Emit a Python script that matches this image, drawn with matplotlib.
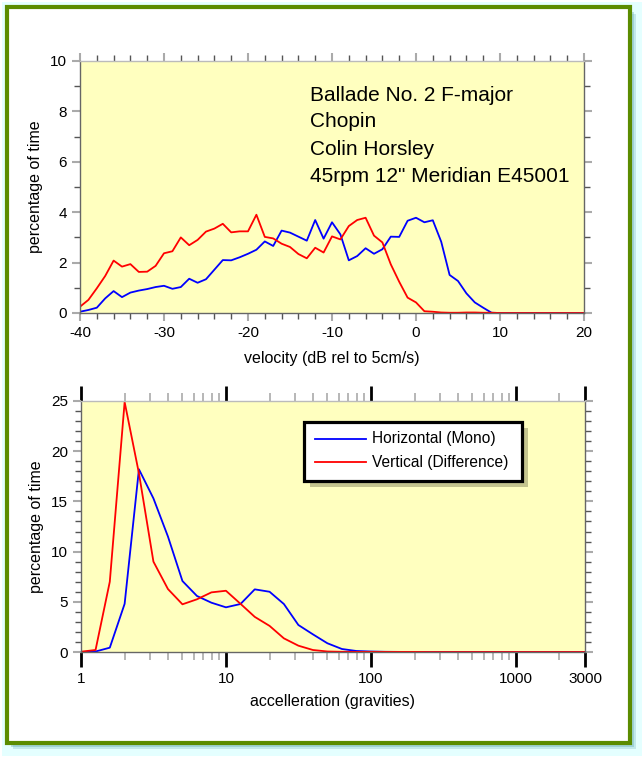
import matplotlib.pyplot as plt
from matplotlib.patches import Rectangle
from matplotlib.ticker import MultipleLocator, LogLocator, NullFormatter

plt.rcParams['font.family'] = ['Liberation Sans', 'DejaVu Sans']
plt.rcParams['axes.unicode_minus'] = False

# velocity distribution (dB rel to 5cm/s), one point per dB from -40 to 20
velocity = list(range(-40, 21))
vel_horiz = [0.05, 0.12, 0.21, 0.58, 0.87, 0.63, 0.81, 0.89, 0.95, 1.03,
             1.08, 0.96, 1.03, 1.36, 1.20, 1.34, 1.72, 2.10, 2.09, 2.21,
             2.35, 2.51, 2.84, 2.66, 3.27, 3.19, 3.03, 2.87, 3.69, 2.95,
             3.60, 3.12, 2.09, 2.26, 2.57, 2.35, 2.53, 3.03, 3.02, 3.66,
             3.78, 3.60, 3.68, 2.83, 1.51, 1.27, 0.78, 0.42, 0.21, 0.01,
             0, 0, 0, 0, 0, 0, 0, 0, 0, 0, 0]
vel_vert = [0.25, 0.52, 0.98, 1.47, 2.08, 1.84, 1.94, 1.63, 1.64, 1.87,
            2.37, 2.45, 3.00, 2.69, 2.90, 3.23, 3.35, 3.54, 3.20, 3.24,
            3.24, 3.90, 3.02, 2.96, 2.75, 2.62, 2.34, 2.17, 2.59, 2.40,
            3.04, 2.92, 3.45, 3.69, 3.78, 3.07, 2.80, 1.93, 1.24, 0.61,
            0.42, 0.07, 0.05, 0.02, 0.01, 0.01, 0.02, 0.02, 0.01, 0.01,
            0, 0, 0, 0, 0, 0, 0, 0, 0, 0, 0]

# acceleration distribution (gravities), ten points per decade
accel = [1, 1.26, 1.58, 2, 2.51, 3.16, 3.98, 5.01, 6.31, 7.94,
         10, 12.6, 15.8, 20, 25.1, 31.6, 39.8, 50.1, 63.1, 79.4,
         100, 126, 158, 200, 251, 316, 398, 501, 631, 794,
         1000, 1259, 1585, 1995, 2512, 3000]
acc_horiz = [0, 0.05, 0.43, 4.8, 18.2, 15.3, 11.5, 7.07, 5.58, 4.91,
             4.45, 4.78, 6.24, 6.0, 4.78, 2.69, 1.76, 0.87, 0.30, 0.10,
             0.05, 0.02, 0.01, 0, 0, 0, 0, 0, 0, 0,
             0, 0, 0, 0, 0, 0]
acc_vert = [0.03, 0.2, 7.0, 24.9, 17.8, 9.0, 6.27, 4.75, 5.25, 5.94,
            6.1, 4.8, 3.5, 2.6, 1.36, 0.63, 0.2, 0.05, 0.02, 0.01,
            0.01, 0.01, 0.01, 0.01, 0, 0, 0, 0, 0, 0,
            0, 0, 0, 0, 0, 0]

info_lines = ['Ballade No. 2 F-major', 'Chopin', 'Colin Horsley',
              '45rpm 12" Meridian E45001']
legend_labels = ['Horizontal (Mono)', 'Vertical (Difference)']
legend_colors = ['#0000ff', '#ff0000']

W, H = 644, 758
fig = plt.figure(figsize=(W / 100, H / 100), dpi=100)
fig.patch.set_facecolor('white')

# frame: glow, drop shadow and green border
fig.patches.append(Rectangle((2 / W, 2 / H), 640 / W, 754 / H, transform=fig.transFigure,
                             facecolor='#e4ffff', edgecolor='none', zorder=-5))
for k, a in enumerate([0.25, 0.35, 0.5]):
    d = 6 - 2 * k
    fig.patches.append(Rectangle(((7 + d) / W, (15 - d) / H), 623 / W, 735 / H,
                                 transform=fig.transFigure, facecolor='#5fa8b0',
                                 edgecolor='none', alpha=a, zorder=-4))
fig.patches.append(Rectangle((7 / W, 15.5 / H), 623 / W, 735.5 / H, transform=fig.transFigure,
                             facecolor='white', edgecolor='#5b8c00', linewidth=3.0, zorder=-3))

yellow = '#ffffbf'


def style_axes(ax):
    ax.set_facecolor(yellow)
    for s in ax.spines.values():
        s.set_color('#666666')
        s.set_linewidth(1.0)
    ax.spines['top'].set_color('#bbbbbb')
    ax.tick_params(which='both', direction='out', top=True, right=True, labelsize=11)


# top panel: velocity
ax1 = fig.add_axes([80 / W, 1 - 313 / H, 504 / W, 252 / H])
style_axes(ax1)
ax1.plot(velocity, vel_horiz, color='#0000ff', lw=1.3)
ax1.plot(velocity, vel_vert, color='#ff0000', lw=1.3)
ax1.set_xlim(-40, 20)
ax1.set_ylim(0, 10)
ax1.xaxis.set_major_locator(MultipleLocator(10))
ax1.xaxis.set_minor_locator(MultipleLocator(2))
ax1.yaxis.set_major_locator(MultipleLocator(2))
ax1.yaxis.set_minor_locator(MultipleLocator(1))
ax1.tick_params(which='major', length=6, width=1.5, color='#aaaaaa')
ax1.tick_params(which='minor', length=4, width=1.0, color='#555555')
ax1.set_xlabel('velocity (dB rel to 5cm/s)', fontsize=11.5, labelpad=8)
ax1.set_ylabel('percentage of time', fontsize=11.5, labelpad=5)
for txt, yy in zip(info_lines, [0.865, 0.758, 0.647, 0.540]):
    ax1.text(0.457, yy, txt, transform=ax1.transAxes, fontsize=15, va='center', ha='left')

# bottom panel: acceleration
ax2 = fig.add_axes([81 / W, 1 - 652 / H, 504 / W, 251 / H])
style_axes(ax2)
ax2.plot(accel, acc_horiz, color='#0000ff', lw=1.3)
ax2.plot(accel, acc_vert, color='#ff0000', lw=1.3)
ax2.set_xscale('log')
ax2.set_xlim(1, 3000)
ax2.set_ylim(0, 25)
ax2.set_xticks([1, 10, 100, 1000, 3000])
ax2.set_xticklabels(['1', '10', '100', '1000', '3000'])
ax2.xaxis.set_minor_locator(LogLocator(base=10, subs=range(2, 10), numticks=20))
ax2.xaxis.set_minor_formatter(NullFormatter())
ax2.yaxis.set_major_locator(MultipleLocator(5))
ax2.yaxis.set_minor_locator(MultipleLocator(1))
ax2.tick_params(axis='x', which='major', length=11, width=2.0, color='black')
ax2.tick_params(axis='x', which='minor', length=6, width=1.2, color='#aaaaaa')
ax2.tick_params(axis='y', which='major', length=6, width=1.5, color='#aaaaaa')
ax2.tick_params(axis='y', which='minor', length=4, width=1.0, color='#555555')
ax2.set_xlabel('accelleration (gravities)', fontsize=11.5, labelpad=6)
ax2.set_ylabel('percentage of time', fontsize=11.5, labelpad=5)

# legend box with drop shadow, drawn in axes fraction
bx, by = (304 - 81) / 504, (652 - 481) / 251
bw, bh = 218 / 504, 59 / 251
ax2.add_patch(Rectangle((bx + 6 / 504, by - 6 / 251), bw, bh, transform=ax2.transAxes,
                        facecolor='#c4c48e', edgecolor='none', zorder=4))
ax2.add_patch(Rectangle((bx, by), bw, bh, transform=ax2.transAxes,
                        facecolor='white', edgecolor='black', linewidth=2.3, zorder=5))
for lab, col, ly in zip(legend_labels, legend_colors, [(652 - 439) / 251, (652 - 462) / 251]):
    ax2.plot([(315 - 81) / 504, (366 - 81) / 504], [ly, ly], transform=ax2.transAxes,
             color=col, lw=1.3, zorder=6, clip_on=False)
    ax2.text((372 - 81) / 504, ly, lab, transform=ax2.transAxes, fontsize=11.2,
             va='center', ha='left', zorder=6)

plt.savefig('out.png', dpi=100)
